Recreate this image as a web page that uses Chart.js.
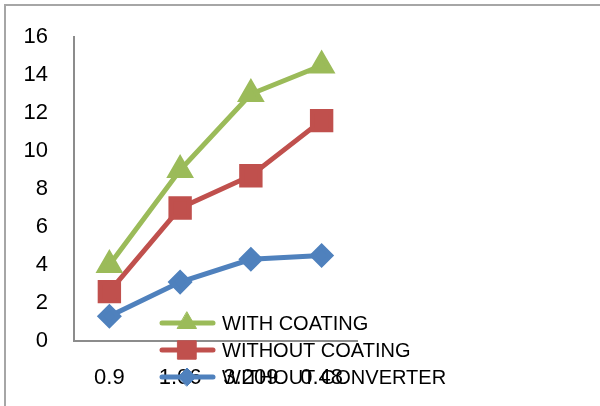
<!DOCTYPE html>
<html lang="en">
<head>
    <meta charset="UTF-8">
    <title>Coating comparison</title>
    <script src="https://cdn.jsdelivr.net/npm/chart.js"></script>
    <style>
        html, body { margin: 0; padding: 0; background: #fff; overflow: hidden; }
        #wrap { position: relative; width: 600px; height: 406px; }
        #frame {
            position: absolute; left: 4px; top: 4px; width: 700px; height: 500px;
            border-left: 2px solid #a6a6a6; border-top: 2px solid #a6a6a6;
        }
        canvas { position: absolute; left: 0; top: 0; }
    </style>
</head>
<body>
<div id="wrap">
    <div id="frame"></div>
    <canvas id="chart" width="600" height="406"></canvas>
</div>
<script>
    // categories and series
    const categories = ['0.9', '1.06', '3.209', '0.48'];
    const withCoating = [4, 9, 13, 14.5];
    const withoutCoating = [2.6, 7, 8.7, 11.6];
    const withoutConverter = [1.3, 3.1, 4.3, 4.5];

    const FONT = '"Liberation Sans", Arial, sans-serif';

    // legend drawn over the plot, like the original
    const overlayLegend = {
        id: 'overlayLegend',
        afterDraw(chart) {
            const ctx = chart.ctx;
            const rows = [323, 350, 377];
            chart.data.datasets.forEach((ds, i) => {
                const y = rows[i];
                ctx.save();
                ctx.strokeStyle = ds.borderColor;
                ctx.lineWidth = 5;
                ctx.lineCap = 'round';
                ctx.beginPath();
                ctx.moveTo(162, y);
                ctx.lineTo(213, y);
                ctx.stroke();
                ctx.fillStyle = ds.backgroundColor;
                ctx.strokeStyle = ds.backgroundColor;
                ctx.lineWidth = 1;
                Chart.helpers.drawPoint(ctx, {
                    pointStyle: ds.pointStyle,
                    radius: ds.pointRadius,
                    rotation: 0,
                    borderWidth: 1
                }, 187, y);
                ctx.fillStyle = '#000';
                ctx.font = '20px ' + FONT;
                ctx.textAlign = 'left';
                ctx.textBaseline = 'middle';
                ctx.fillText(ds.label, 222, y + 1);
                ctx.restore();
            });
        }
    };

    new Chart(document.getElementById('chart'), {
        type: 'line',
        data: {
            labels: categories,
            datasets: [
                {
                    label: 'WITH COATING',
                    data: withCoating,
                    borderColor: '#9BBB59',
                    backgroundColor: '#9BBB59',
                    borderWidth: 5,
                    pointStyle: 'triangle',
                    pointRadius: 11,
                    tension: 0
                },
                {
                    label: 'WITHOUT COATING',
                    data: withoutCoating,
                    borderColor: '#C0504D',
                    backgroundColor: '#C0504D',
                    borderWidth: 5,
                    pointStyle: 'rect',
                    pointRadius: 13,
                    tension: 0
                },
                {
                    label: 'WITHOUT CONVERTER',
                    data: withoutConverter,
                    borderColor: '#4F81BD',
                    backgroundColor: '#4F81BD',
                    borderWidth: 5,
                    pointStyle: 'rectRot',
                    pointRadius: 9,
                    tension: 0
                }
            ]
        },
        options: {
            responsive: false,
            animation: false,
            layout: { padding: { top: 37, right: 243, left: 0, bottom: 0 } },
            plugins: {
                legend: { display: false },
                tooltip: { enabled: false }
            },
            scales: {
                x: {
                    offset: true,
                    grid: { display: false },
                    border: { display: true, color: '#8c8c8c', width: 2 },
                    ticks: { color: '#000', font: { family: FONT, size: 22 }, padding: 16, maxRotation: 0 },
                    afterFit(scale) { scale.height = 65; }
                },
                y: {
                    min: 0,
                    max: 16,
                    grid: { display: false },
                    border: { display: true, color: '#8c8c8c', width: 2 },
                    ticks: { stepSize: 2, color: '#000', font: { family: FONT, size: 22 }, padding: 18 },
                    afterFit(scale) { scale.width = 74; }
                }
            }
        },
        plugins: [overlayLegend]
    });
</script>
</body>
</html>
